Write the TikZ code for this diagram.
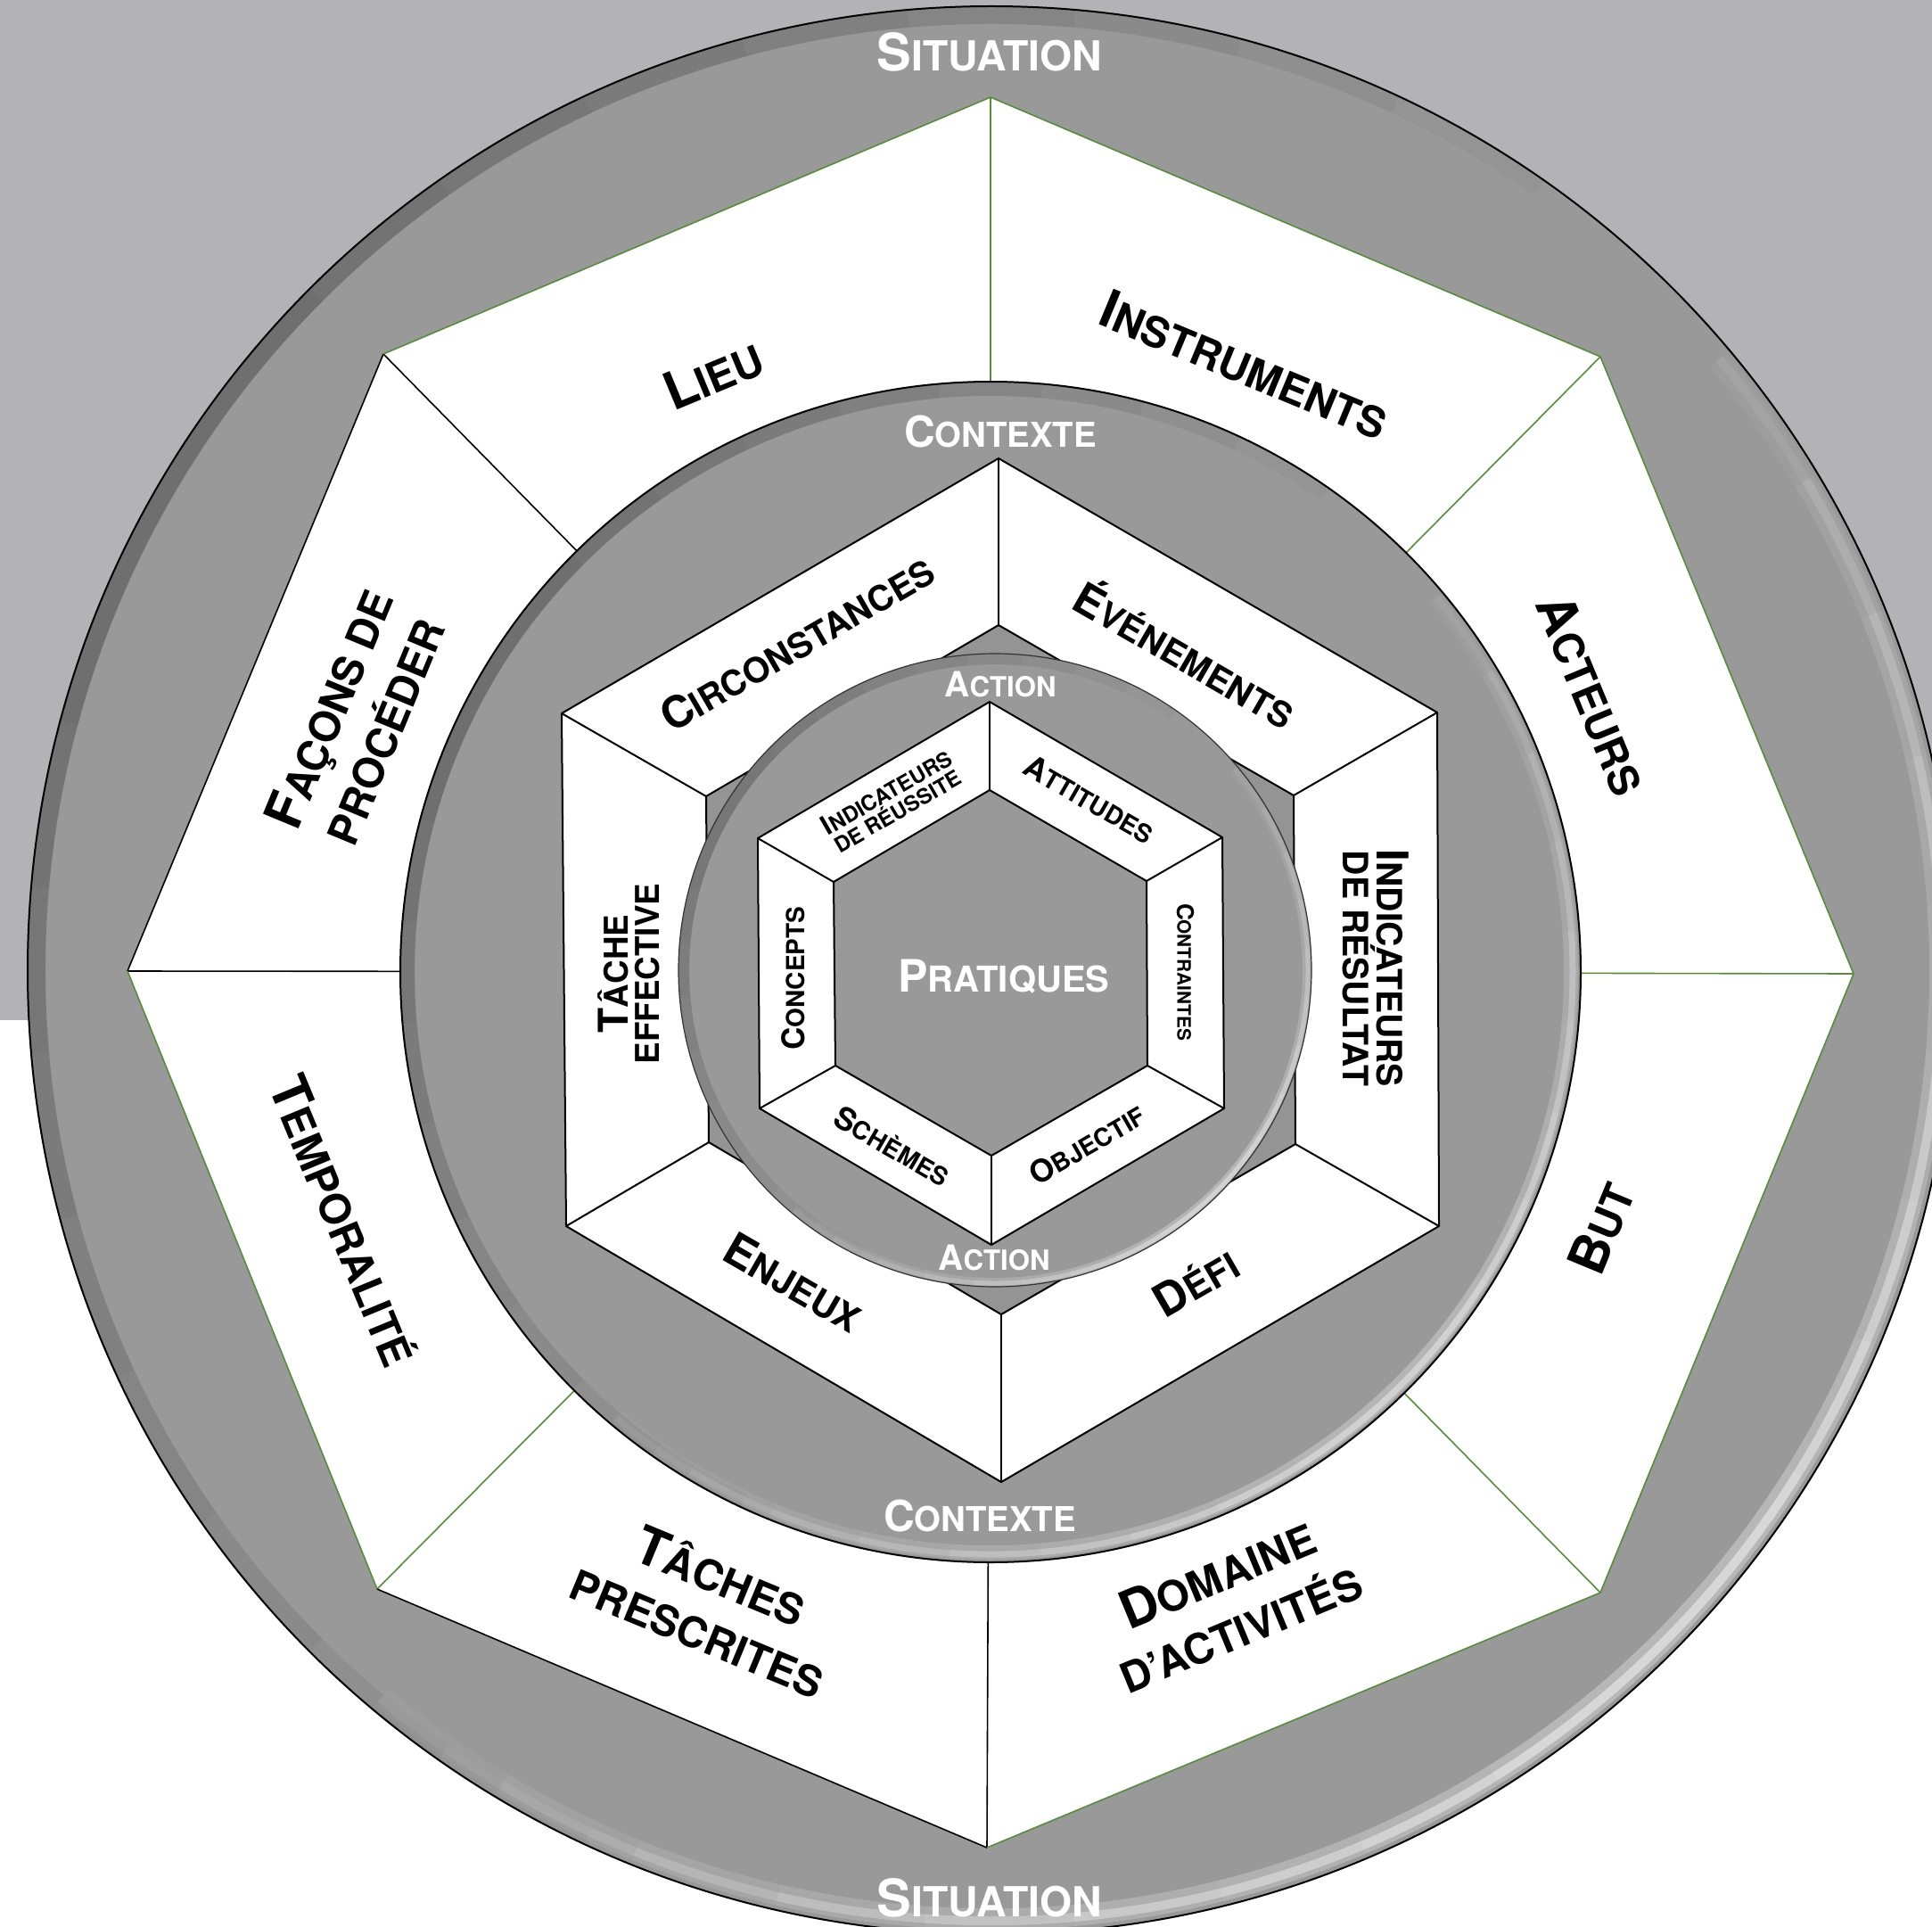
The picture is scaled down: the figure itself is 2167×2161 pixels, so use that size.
\documentclass[tikz,border=0pt]{standalone}
\usepackage{fontspec}
\setmainfont{TeX Gyre Heros}
\usepackage{graphicx}
\definecolor{bgGray}{HTML}{B3B2B7}
\definecolor{ringGray}{HTML}{999999}
\definecolor{darkGray}{HTML}{949494}
\definecolor{edgeGreen}{HTML}{5A8A40}
\newcommand\smc[2]{#1\scalebox{0.8}{#2}}
\newcommand\lc[1]{\scalebox{0.8}{#1}}
% soft rims: #1 centre, #2 radius, #3 width, #4 opacity step
\newcommand\darkrim[4]{%
  \foreach \k in {0,...,8}{%
    \pgfmathsetmacro\aa{55+10*\k}\pgfmathsetmacro\bb{245-10*\k}%
    \draw[black,opacity=#4,line width=#3] (#1) ++(\aa:#2) arc[start angle=\aa,end angle=\bb,radius=#2];}}
\newcommand\lightrim[4]{%
  \foreach \k in {0,...,8}{%
    \pgfmathsetmacro\aa{-130+9*\k}\pgfmathsetmacro\bb{40-9*\k}%
    \draw[white,opacity=#4,line width=#3] (#1) ++(\aa:#2) arc[start angle=\aa,end angle=\bb,radius=#2];}}
\begin{document}
\begin{tikzpicture}[x=0.5pt,y=0.5pt,
  octblack/.style={black,line width=0.8pt},
  octgreen/.style={edgeGreen,line width=0.8pt},
  hexline/.style={black,line width=1pt,line join=round},
  sitlbl/.style={text=white,inner sep=0pt,font=\fontsize{29}{31}\selectfont\bfseries},
  ctxlbl/.style={text=white,inner sep=0pt,font=\fontsize{24}{26}\selectfont\bfseries},
  actlbl/.style={text=white,inner sep=0pt,font=\fontsize{19.5}{22}\selectfont\bfseries},
  praclbl/.style={text=white,inner sep=0pt,font=\fontsize{25}{27}\selectfont\bfseries},
  octlbl/.style={text=black,inner sep=0pt,align=center,font=\fontsize{29.5}{33}\selectfont\bfseries},
  hexlbl/.style={text=black,inner sep=0pt,align=center,font=\fontsize{24.5}{19}\selectfont\bfseries},
  hexlblb/.style={text=black,inner sep=0pt,align=center,font=\fontsize{25.5}{28}\selectfont\bfseries},
  hexlblc/.style={text=black,inner sep=0pt,align=center,font=\fontsize{23}{17.5}\selectfont\bfseries},
  smlbl/.style={text=black,inner sep=0pt,align=center,font=\fontsize{17.5}{19}\selectfont\bfseries},
  smlblc/.style={text=black,inner sep=0pt,align=center,font=\fontsize{13}{15}\selectfont\bfseries},
  smlbli/.style={text=black,inner sep=0pt,align=center,font=\fontsize{15}{12}\selectfont\bfseries}]
\useasboundingbox (0,0) rectangle (2167,-2161);
\fill[white] (0,0) rectangle (2167,-2161);
\fill[bgGray] (0,0) rectangle (2167,-1144);

% ---------- outer ring (Situation)
\coordinate (c0) at (1112,-1088);
\fill[ringGray] (c0) circle (1081);
\darkrim{c0}{1071}{10pt}{0.03}
\lightrim{c0}{1064}{12pt}{0.045}
\lightrim{c0}{1066}{5pt}{0.07}
\draw[black,line width=1pt] (c0) circle (1081);

% ---------- octagon
\coordinate (oc) at (1111,-1090);
\coordinate (o1) at (1111,-109);
\coordinate (o2) at (1795,-400);
\coordinate (o3) at (2079,-1092);
\coordinate (o4) at (1795,-1786);
\coordinate (o5) at (1107,-2072);
\coordinate (o6) at (423,-1782);
\coordinate (o7) at (143,-1089);
\coordinate (o8) at (430,-397);
\fill[white] (o1)--(o2)--(o3)--(o4)--(o5)--(o6)--(o7)--(o8)--cycle;
\draw[octgreen] (o1)--(oc);
\draw[octgreen] (o2)--(oc);
\draw[octgreen] (o3)--(oc);
\draw[octgreen] (o4)--(oc);
\draw[octblack] (o5)--(oc);
\draw[octgreen] (o6)--(oc);
\draw[octblack] (o7)--(oc);
\draw[octblack] (o8)--(oc);
\draw[octblack] (o5)--(o6);
\draw[octblack] (o7)--(o8);
\draw[octgreen] (o8)--(o1)--(o2)--(o3)--(o4)--(o5);
\draw[octgreen] (o6)--(o7);

% ---------- middle ring (Contexte)
\coordinate (c1) at (1111,-1090);
\fill[ringGray] (c1) circle (662);
\darkrim{c1}{654}{8pt}{0.03}
\lightrim{c1}{651}{8pt}{0.04}
\lightrim{c1}{653}{3.5pt}{0.06}
\draw[black,line width=1pt] (c1) circle (662);

% ---------- middle hexagon
\coordinate (h1) at (1120,-514);
\coordinate (h2) at (1612,-799);
\coordinate (h3) at (1614,-1375);
\coordinate (h4) at (1123,-1662);
\coordinate (h5) at (635,-1375);
\coordinate (h6) at (630,-800);
\coordinate (g1) at (1120,-701);
\coordinate (g2) at (1451,-892);
\coordinate (g3) at (1453,-1283);
\coordinate (g4) at (1123,-1474);
\coordinate (g5) at (795,-1281);
\coordinate (g6) at (792,-893);
\fill[white] (h1)--(h2)--(h3)--(h4)--(h5)--(h6)--cycle;
\fill[darkGray] (g1)--(g2)--(g3)--(g4)--(g5)--(g6)--cycle;
\draw[hexline] (h1)--(g1);
\draw[hexline] (h2)--(g2);
\draw[hexline] (h3)--(g3);
\draw[hexline] (h4)--(g4);
\draw[hexline] (h5)--(g5);
\draw[hexline] (h6)--(g6);
\draw[hexline] (h1)--(h2)--(h3)--(h4)--(h5)--(h6)--cycle;
\draw[hexline] (g1)--(g2)--(g3)--(g4)--(g5)--(g6)--cycle;

% ---------- inner disc (Action)
\coordinate (c2) at (1116,-1088);
\fill[ringGray] (c2) circle (355);
\darkrim{c2}{349}{6pt}{0.025}
\lightrim{c2}{350}{5pt}{0.04}
\lightrim{c2}{351}{2.5pt}{0.06}
\draw[black!80,line width=0.6pt] (c2) circle (355);

% ---------- inner hexagon
\coordinate (k1) at (1110,-787);
\coordinate (k2) at (1371,-939);
\coordinate (k3) at (1373,-1243);
\coordinate (k4) at (1112,-1396);
\coordinate (k5) at (852,-1243);
\coordinate (k6) at (850,-940);
\coordinate (m1) at (1110,-886);
\coordinate (m2) at (1286,-988);
\coordinate (m3) at (1287,-1195);
\coordinate (m4) at (1112,-1296);
\coordinate (m5) at (937,-1195);
\coordinate (m6) at (935,-989);
\fill[white] (k1)--(k2)--(k3)--(k4)--(k5)--(k6)--cycle;
\fill[ringGray] (m1)--(m2)--(m3)--(m4)--(m5)--(m6)--cycle;
\draw[hexline] (k1)--(m1);
\draw[hexline] (k2)--(m2);
\draw[hexline] (k3)--(m3);
\draw[hexline] (k4)--(m4);
\draw[hexline] (k5)--(m5);
\draw[hexline] (k6)--(m6);
\draw[hexline] (k1)--(k2)--(k3)--(k4)--(k5)--(k6)--cycle;
\draw[hexline] (m1)--(m2)--(m3)--(m4)--(m5)--(m6)--cycle;

% ---------- ring labels
\node[sitlbl] (sitT) at (1110,-58) {\smc{S}{ITUATION}};
\node[sitlbl] (sitB) at (1110,-2128) {\smc{S}{ITUATION}};
\node[ctxlbl] (ctxT) at (1122,-484) {\smc{C}{ONTEXTE}};
\node[ctxlbl] (ctxB) at (1099,-1700) {\smc{C}{ONTEXTE}};
\node[actlbl] (actT) at (1122,-767) {\smc{A}{CTION}};
\node[actlbl] (actB) at (1115,-1410) {\smc{A}{CTION}};
\node[praclbl] (prat) at (1126,-1095) {\smc{P}{RATIQUES}};

% ---------- octagon labels
\node[octlbl,rotate=22.5] (lieu) at (800,-420) {\smc{L}{IEU}};
\node[octlbl,rotate=-22.5] (instr) at (1396,-409) {\smc{I}{NSTRUMENTS}};
\node[octlbl,rotate=-67.5] (acteurs) at (1786,-779) {\smc{A}{CTEURS}};
\node[octlbl,rotate=67.5] (but) at (1796,-1377) {\smc{B}{UT}};
\node[octlbl,rotate=22.5] (domaine) at (1378,-1795) {\smc{D}{OMAINE}\\\lc{D’ACTIVITÉS}};
\node[octlbl,rotate=-22.5] (tachesp) at (796,-1798) {\smc{T}{ÂCHES}\\\lc{PRESCRITES}};
\node[octlbl,rotate=-67.5] (tempo) at (386,-1369) {\smc{T}{EMPORALITÉ}};
\node[octlbl,rotate=67.5] (facons) at (399,-807) {\smc{F}{AÇONS DE}\\\lc{PROCÉDER}};

% ---------- middle hexagon labels
\node[hexlbl,rotate=30] (circ) at (894,-721) {\smc{C}{IRCONSTANCES}};
\node[hexlbl,rotate=-30] (even) at (1331,-731) {\smc{É}{VÉNEMENTS}};
\node[hexlbl,rotate=-90] (indres) at (1543,-1086) {\smc{I}{NDICATEURS}\\\lc{DE RÉSULTAT}};
\node[hexlblb,rotate=30] (defi) at (1341,-1438) {\smc{D}{ÉFI}};
\node[hexlblb,rotate=-30] (enjeux) at (890,-1438) {\smc{E}{NJEUX}};
\node[hexlblc,rotate=90] (tachee) at (705,-1092) {\smc{T}{ÂCHE}\\\lc{EFFECTIVE}};

% ---------- inner hexagon labels
\node[smlbli,rotate=30] (indreu) at (1000,-898) {\smc{I}{NDICATEURS}\\\lc{DE RÉUSSITE}};
\node[smlbl,rotate=-30] (attit) at (1222,-896) {\smc{A}{TTITUDES}};
\node[smlblc,rotate=-90] (contr) at (1330,-1090) {\smc{C}{ONTRAINTES}};
\node[smlbl,rotate=30] (objec) at (1219,-1283) {\smc{O}{BJECTIF}};
\node[smlbl,rotate=-30] (schem) at (1001,-1285) {\smc{S}{CHÈMES}};
\node[smlbl,rotate=90] (conce) at (890,-1097) {\smc{C}{ONCEPTS}};
\end{tikzpicture}
\end{document}
